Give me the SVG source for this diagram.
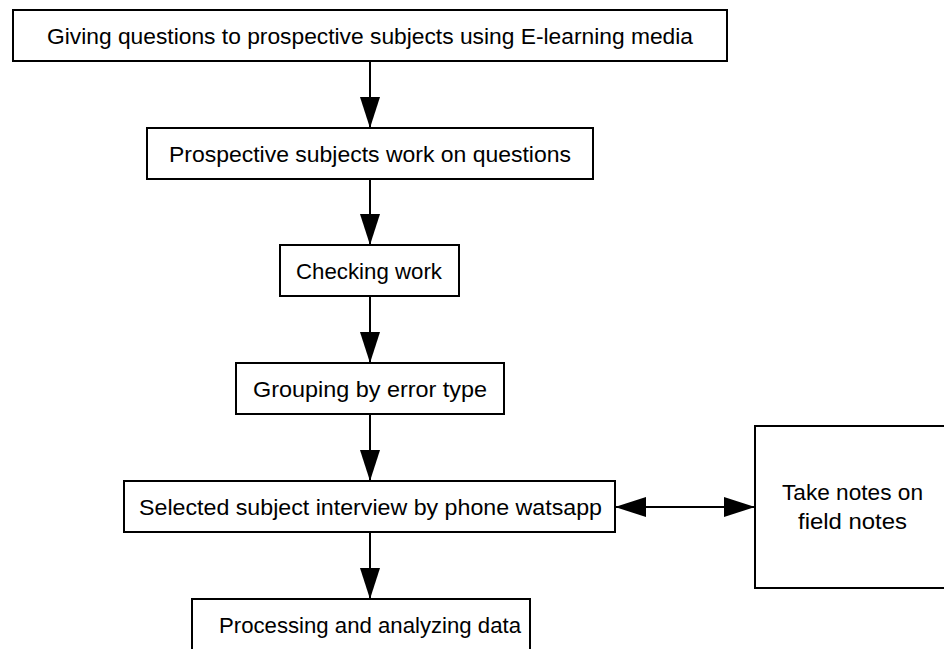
<svg xmlns="http://www.w3.org/2000/svg" width="944" height="649" viewBox="0 0 944 649">
  <style>
    .box { fill: #ffffff; stroke: #000000; stroke-width: 2; }
    .lbl { font-family: "Liberation Sans", Arial, sans-serif; font-size: 22px; fill: #000000; }
    .edge { stroke: #000000; stroke-width: 2; fill: none; }
  </style>
  <defs>
    <marker id="head" markerUnits="userSpaceOnUse" markerWidth="32" markerHeight="22" refX="31" refY="10" orient="auto-start-reverse">
      <path d="M0,0 L31,10 L0,20 z" fill="#000000"/>
    </marker>
  </defs>
  <rect width="944" height="649" fill="#ffffff"/>

  <g id="connectors">
    <line class="edge" x1="370" y1="61" x2="370" y2="128" marker-end="url(#head)"/>
    <line class="edge" x1="370" y1="179" x2="370" y2="245" marker-end="url(#head)"/>
    <line class="edge" x1="370" y1="296" x2="370" y2="363" marker-end="url(#head)"/>
    <line class="edge" x1="370" y1="414" x2="370" y2="481" marker-end="url(#head)"/>
    <line class="edge" x1="370" y1="532" x2="370" y2="599" marker-end="url(#head)"/>
    <line class="edge" x1="615" y1="507" x2="755" y2="507" marker-start="url(#head)" marker-end="url(#head)"/>
  </g>

  <g id="giving-questions">
    <rect class="box" x="13" y="10" width="714" height="51"/>
    <text class="lbl" x="47" y="44" textLength="646" lengthAdjust="spacingAndGlyphs">Giving questions to prospective subjects using E-learning media</text>
  </g>

  <g id="work-on-questions">
    <rect class="box" x="147" y="128" width="446" height="51"/>
    <text class="lbl" x="169" y="162" textLength="402" lengthAdjust="spacingAndGlyphs">Prospective subjects work on questions</text>
  </g>

  <g id="checking-work">
    <rect class="box" x="280" y="245" width="179" height="51"/>
    <text class="lbl" x="296" y="279" textLength="146" lengthAdjust="spacingAndGlyphs">Checking work</text>
  </g>

  <g id="grouping">
    <rect class="box" x="236" y="363" width="268" height="51"/>
    <text class="lbl" x="253" y="397" textLength="234" lengthAdjust="spacingAndGlyphs">Grouping by error type</text>
  </g>

  <g id="interview">
    <rect class="box" x="124" y="481" width="491" height="51"/>
    <text class="lbl" x="139" y="515" textLength="463" lengthAdjust="spacingAndGlyphs">Selected subject interview by phone watsapp</text>
  </g>

  <g id="processing">
    <rect class="box" x="192" y="599" width="338" height="60"/>
    <text class="lbl" x="219" y="633" textLength="302" lengthAdjust="spacingAndGlyphs">Processing and analyzing data</text>
  </g>

  <g id="field-notes">
    <rect class="box" x="755" y="426" width="200" height="162"/>
    <text class="lbl" x="782" y="500" textLength="141" lengthAdjust="spacingAndGlyphs">Take notes on</text>
    <text class="lbl" x="798" y="529" textLength="109" lengthAdjust="spacingAndGlyphs">field notes</text>
  </g>
</svg>
